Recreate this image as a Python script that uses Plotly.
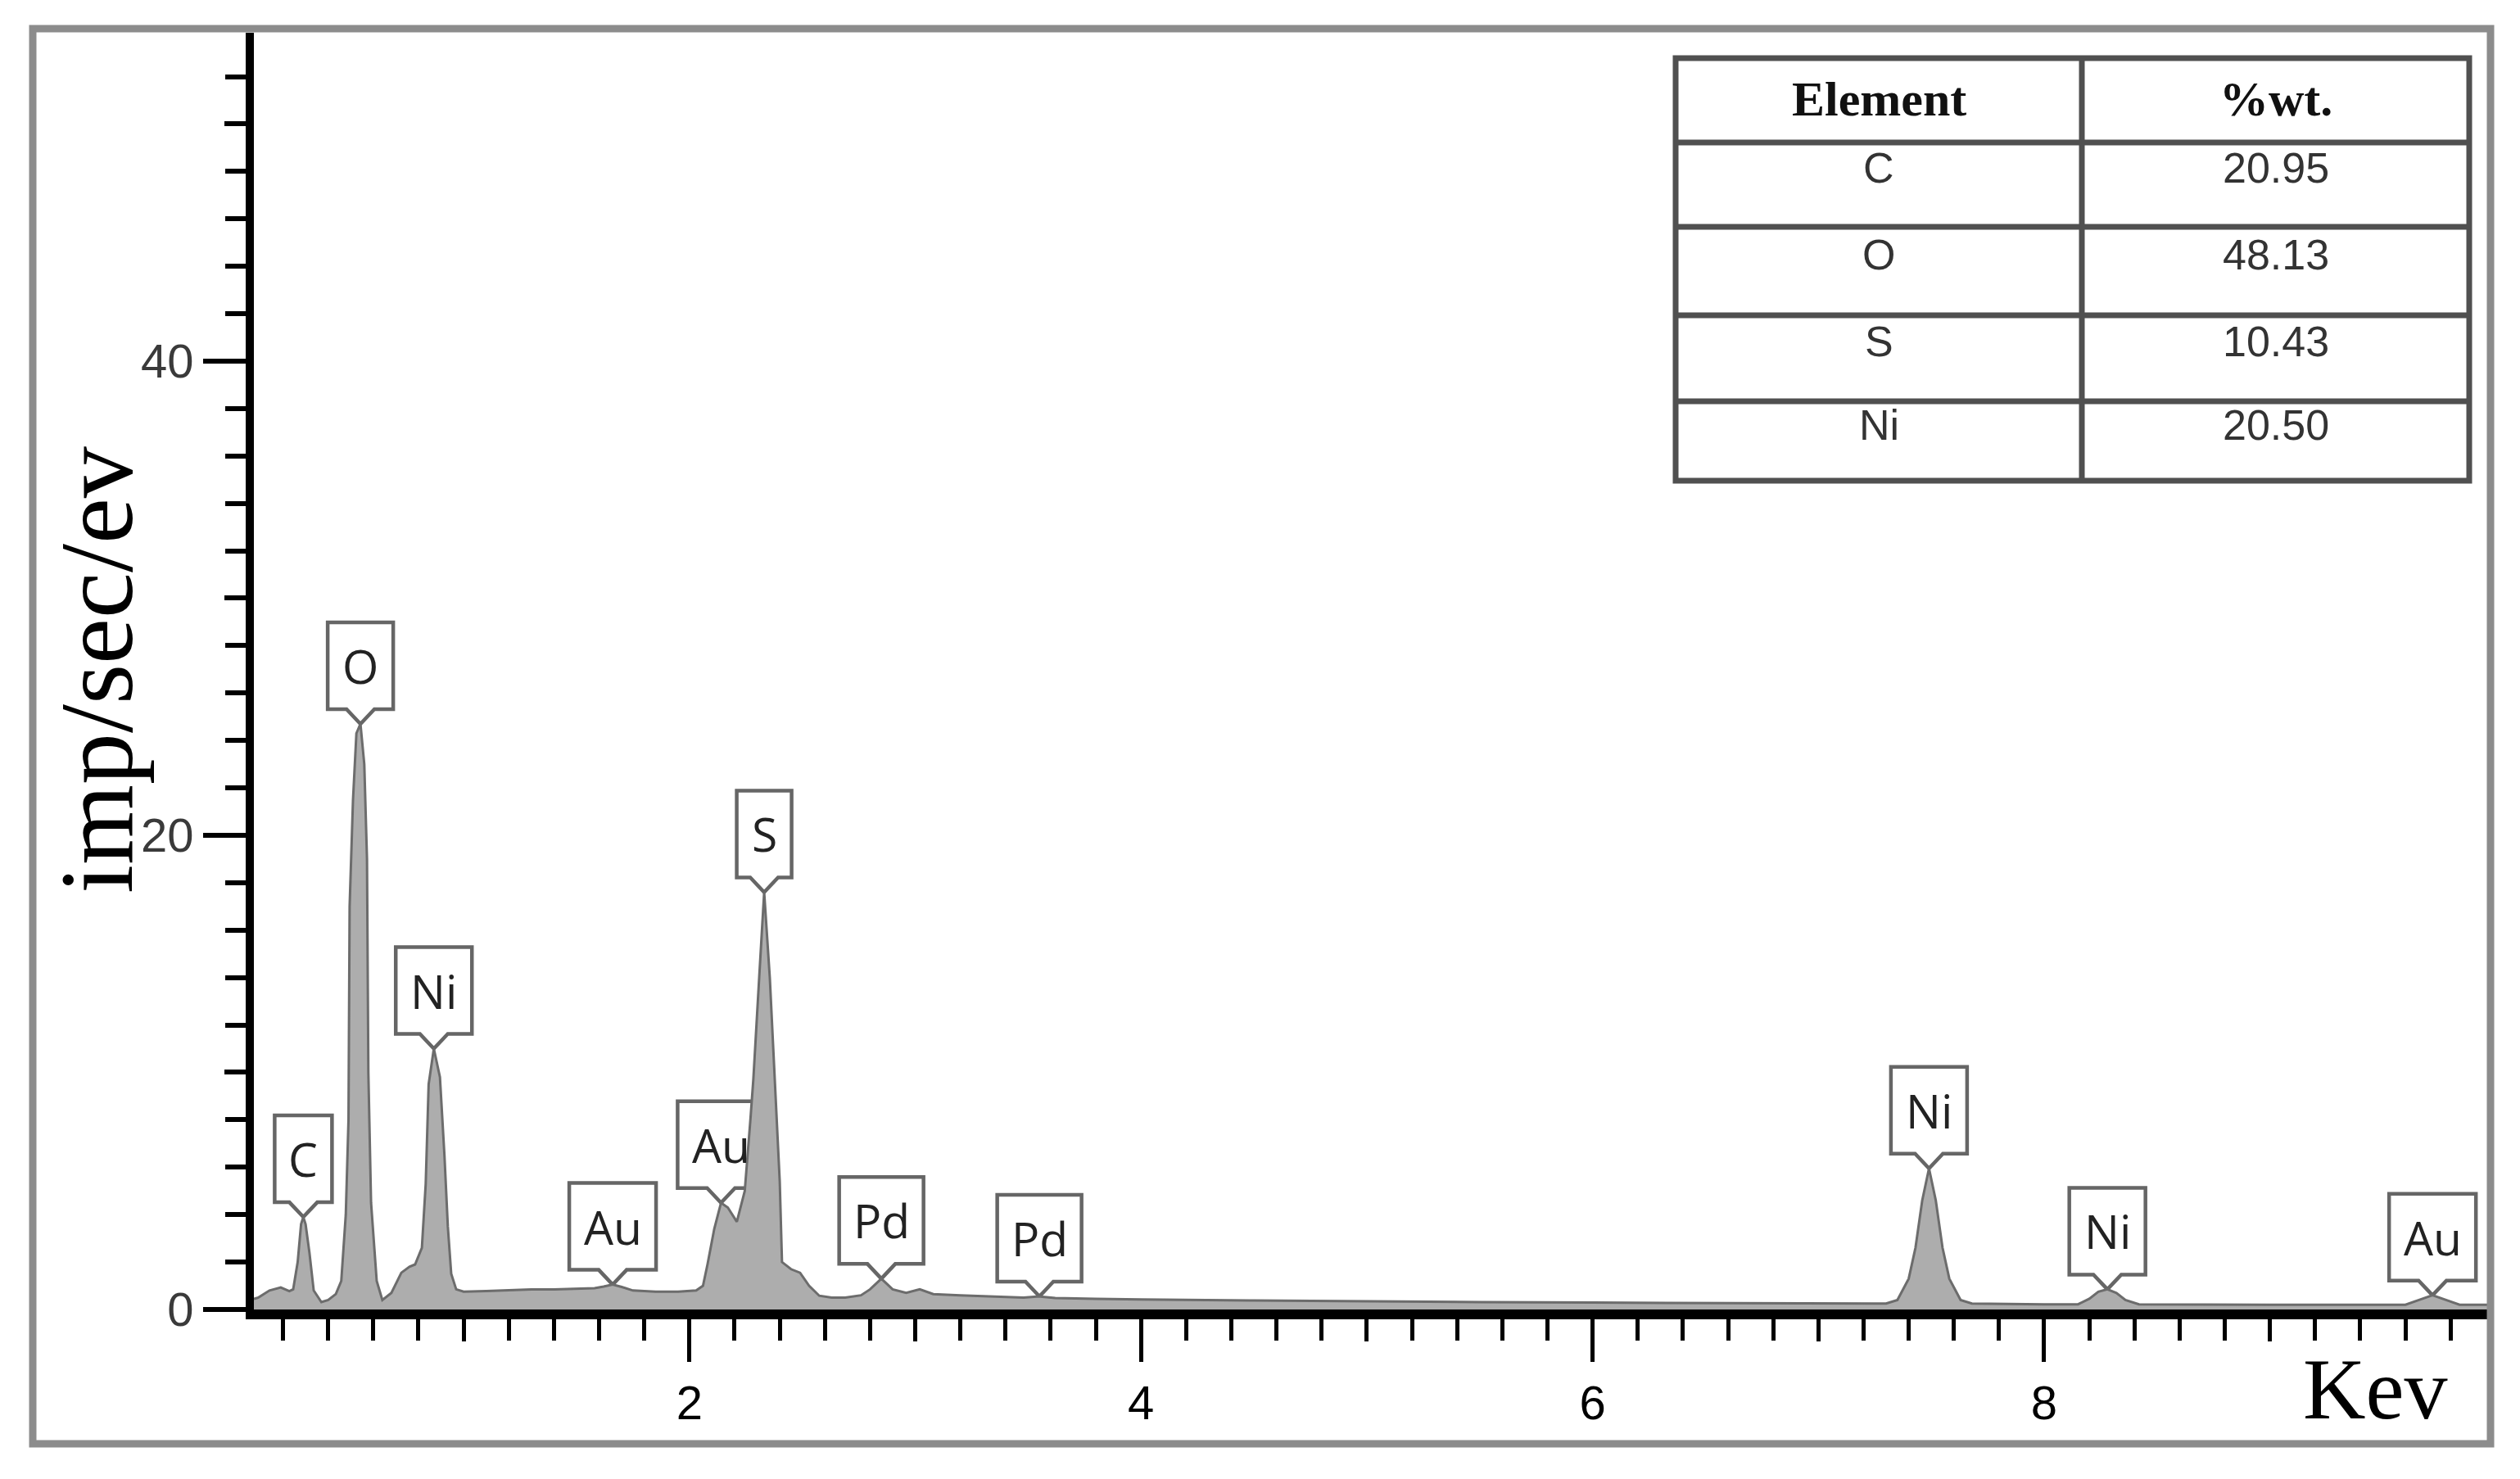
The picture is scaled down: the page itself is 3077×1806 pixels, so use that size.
import plotly.graph_objects as go

# EDS spectrum (keV, imp/sec/ev)
energy = [0.071, 0.09, 0.14, 0.19, 0.228, 0.245, 0.265, 0.28, 0.29, 0.30, 0.317, 0.336,
          0.37, 0.40, 0.434, 0.458, 0.478, 0.49, 0.495, 0.51, 0.525, 0.543, 0.56, 0.572,
          0.578, 0.59, 0.615, 0.64, 0.68, 0.724, 0.76, 0.785, 0.815, 0.832, 0.845, 0.868,
          0.895, 0.915, 0.93, 0.945, 0.967, 1.0, 1.1, 1.2, 1.3, 1.4, 1.5, 1.58, 1.62,
          1.66, 1.70, 1.75, 1.85, 1.95, 2.03, 2.06, 2.08, 2.11, 2.14, 2.17, 2.21, 2.245,
          2.27, 2.283, 2.309, 2.331, 2.356, 2.38, 2.40, 2.41, 2.45, 2.49, 2.53, 2.575,
          2.63, 2.69, 2.76, 2.80, 2.85, 2.90, 2.96, 3.02, 3.08, 3.2, 3.35, 3.48, 3.55,
          3.62, 3.8, 4.0, 4.5, 5.0, 5.5, 6.0, 6.5, 7.0, 7.30, 7.35, 7.40, 7.43, 7.46,
          7.49, 7.52, 7.55, 7.58, 7.63, 7.68, 8.0, 8.15, 8.20, 8.24, 8.28, 8.32, 8.36,
          8.42, 9.0, 9.6, 9.66, 9.72, 9.78, 9.84, 9.966]
counts = [0.45, 0.5, 0.8, 0.93, 0.77, 0.85, 2.0, 3.6, 3.9, 3.6, 2.4, 0.8,
          0.31, 0.4, 0.65, 1.2, 4.0, 8.0, 17.0, 21.5, 24.3, 24.7, 23.0, 19.0,
          10.0, 4.5, 1.2, 0.4, 0.7, 1.55, 1.8, 1.9, 2.6, 5.3, 9.5, 11.0,
          9.8, 6.5, 3.5, 1.5, 0.85, 0.75, 0.78, 0.82, 0.85, 0.85, 0.88, 0.9, 0.97,
          1.05, 0.95, 0.8, 0.75, 0.75, 0.8, 1.0, 1.9, 3.4, 4.5, 4.3, 3.7, 5.0,
          8.0, 9.7, 14.0, 17.6, 14.0, 9.1, 5.4, 2.0, 1.7, 1.55, 1.0, 0.58,
          0.5, 0.5, 0.6, 0.85, 1.3, 0.85, 0.7, 0.85, 0.65, 0.6, 0.55, 0.5, 0.55,
          0.48, 0.45, 0.42, 0.38, 0.34, 0.31, 0.29, 0.27, 0.25, 0.25, 0.4, 1.3, 2.6, 4.6,
          5.95, 4.6, 2.6, 1.3, 0.4, 0.25, 0.22, 0.22, 0.45, 0.75, 0.85, 0.7, 0.4,
          0.22, 0.2, 0.2, 0.4, 0.6, 0.4, 0.2, 0.2]

# peak labels: element, energy of the tip, height of the tip
peak_names = ["C", "O", "Ni", "Au", "Au", "S", "Pd", "Pd", "Ni", "Ni", "Au"]
peak_keV = [0.29, 0.543, 0.868, 1.66, 2.14, 2.331, 2.85, 3.55, 7.49, 8.28, 9.72]
peak_height = [3.9, 24.7, 11.0, 1.05, 4.5, 17.6, 1.3, 0.55, 5.95, 0.85, 0.6]

# composition table
table_header = ["Element", "%wt."]
table_elements = ["C", "O", "S", "Ni"]
table_wt = ["20.95", "48.13", "10.43", "20.50"]

# the page body has an 8px margin, so the figure is laid out in page pixels minus 8
OFF = 8
W, H = 3061, 1790
L, T = 310 - OFF, 40 - OFF
R = W - (3038 - OFF)
B = H - (1599 - OFF)
PW, PH = W - L - R, H - T - B


def px(x):
    return (x - OFF - L) / PW


def py(y):
    return (H - B - (y - OFF)) / PH


box_w = {"C": 70, "O": 80, "Ni": 93, "Au": 106, "S": 67, "Pd": 103}
box_h, notch_d, notch_w = 106, 18, 17

fig = go.Figure()

fig.add_trace(go.Scatter(
    x=energy, y=counts, mode='lines', fill='tozeroy',
    fillcolor='#adadad', line=dict(color='#6c6c6c', width=3),
    hoverinfo='skip', showlegend=False
))
# carrier for the medium-tick axes
fig.add_trace(go.Scatter(
    x=[energy[0]], y=[counts[0]], xaxis='x2', yaxis='y2', mode='markers',
    marker=dict(opacity=0), hoverinfo='skip', showlegend=False
))

shapes = []
annotations = []

for name, xk, yk in zip(peak_names, peak_keV, peak_height):
    hw = box_w[name] / 2
    path = (f'M {-hw},{notch_d} L {-notch_w},{notch_d} L 0,0 L {notch_w},{notch_d} '
            f'L {hw},{notch_d} L {hw},{notch_d + box_h} L {-hw},{notch_d + box_h} Z')
    shapes.append(dict(
        type='path', xref='x', yref='y', xsizemode='pixel', ysizemode='pixel',
        xanchor=xk, yanchor=yk, path=path, fillcolor='white',
        line=dict(color='#666666', width=4.5), layer='below'
    ))
    annotations.append(dict(
        x=xk, y=yk, xref='x', yref='y', text=name, showarrow=False,
        yshift=notch_d + box_h / 2, xanchor='center', yanchor='middle',
        font=dict(family='Open Sans', size=57, color='#222222')
    ))

# outer frame
shapes.append(dict(type='rect', xref='paper', yref='paper',
                   x0=px(40), x1=px(3041), y0=py(35), y1=py(1763),
                   line=dict(color='#8c8c8c', width=9), layer='above'))

# table grid
tx0, tx1, tcol = 2046, 3015, 2542
trows = [71, 174, 277, 385, 490, 587]
shapes.append(dict(type='rect', xref='paper', yref='paper',
                   x0=px(tx0), x1=px(tx1), y0=py(trows[0]), y1=py(trows[-1]),
                   fillcolor='white', line=dict(color='#505050', width=7), layer='above'))
shapes.append(dict(type='line', xref='paper', yref='paper',
                   x0=px(tcol), x1=px(tcol), y0=py(trows[0]), y1=py(trows[-1]),
                   line=dict(color='#505050', width=7), layer='above'))
for r in trows[1:-1]:
    shapes.append(dict(type='line', xref='paper', yref='paper',
                       x0=px(tx0), x1=px(tx1), y0=py(r), y1=py(r),
                       line=dict(color='#505050', width=7), layer='above'))

c1, c2 = (tx0 + tcol) / 2, (tcol + tx1) / 2
for cx, txt in zip([c1, c2], table_header):
    annotations.append(dict(
        x=px(cx), y=py((trows[0] + trows[1]) / 2 - 2), xref='paper', yref='paper',
        text=f'<b>{txt}</b>', showarrow=False, xanchor='center', yanchor='middle',
        font=dict(family='Liberation Serif', size=60, color='#111111')
    ))
for i, (el, wt) in enumerate(zip(table_elements, table_wt)):
    yc = (trows[i + 1] + trows[i + 2]) / 2 - 20
    for cx, txt in zip([c1, c2], [el, wt]):
        annotations.append(dict(
            x=px(cx), y=py(yc), xref='paper', yref='paper', text=txt,
            showarrow=False, xanchor='center', yanchor='middle',
            font=dict(family='Liberation Sans', size=52, color='#333333')
        ))

# axis titles
annotations.append(dict(
    x=px(118), y=py(818), xref='paper', yref='paper', text='imp/sec/ev',
    textangle=-90, showarrow=False, xanchor='center', yanchor='middle',
    font=dict(family='Liberation Serif', size=126, color='black')
))
annotations.append(dict(
    x=px(2900), y=py(1697), xref='paper', yref='paper', text='Kev',
    showarrow=False, xanchor='center', yanchor='middle',
    font=dict(family='Liberation Serif', size=106, color='black')
))

xrange = [0.071, 9.966]
yrange = [0, 53.85]

fig.update_layout(
    width=W, height=H,
    margin=dict(l=L, r=R, t=T, b=B),
    paper_bgcolor='white', plot_bgcolor='white',
    hovermode=False,
    shapes=shapes,
    annotations=annotations,
    xaxis=dict(
        range=xrange, showgrid=False, zeroline=False,
        showline=True, linecolor='black', linewidth=12,
        ticks='outside', tick0=0, dtick=2, ticklen=52, tickwidth=5, tickcolor='black',
        tickfont=dict(family='Liberation Sans', size=58, color='black'),
        minor=dict(ticks='outside', dtick=0.2, tick0=0, ticklen=26, tickwidth=5,
                   tickcolor='black', showgrid=False),
    ),
    xaxis2=dict(
        range=xrange, overlaying='x', anchor='y', side='bottom',
        showgrid=False, zeroline=False, showline=False, showticklabels=False,
        ticks='outside', tickvals=[1, 3, 5, 7, 9], ticklen=38, tickwidth=5,
        tickcolor='black',
    ),
    yaxis=dict(
        range=yrange, showgrid=False, zeroline=False,
        showline=True, linecolor='black', linewidth=10,
        ticks='outside', tick0=0, dtick=20, ticklen=52, tickwidth=6, tickcolor='black',
        tickfont=dict(family='Liberation Sans', size=58, color='#3a3a3a'),
        minor=dict(ticks='outside', dtick=2, tick0=0, ticklen=25, tickwidth=6,
                   tickcolor='black', showgrid=False),
    ),
    yaxis2=dict(
        range=yrange, overlaying='y', anchor='x', side='left',
        showgrid=False, zeroline=False, showline=False, showticklabels=False,
        ticks='outside', tickvals=[10, 30, 50], ticklen=35, tickwidth=6,
        tickcolor='black',
    ),
)

fig.write_html("out.html")
